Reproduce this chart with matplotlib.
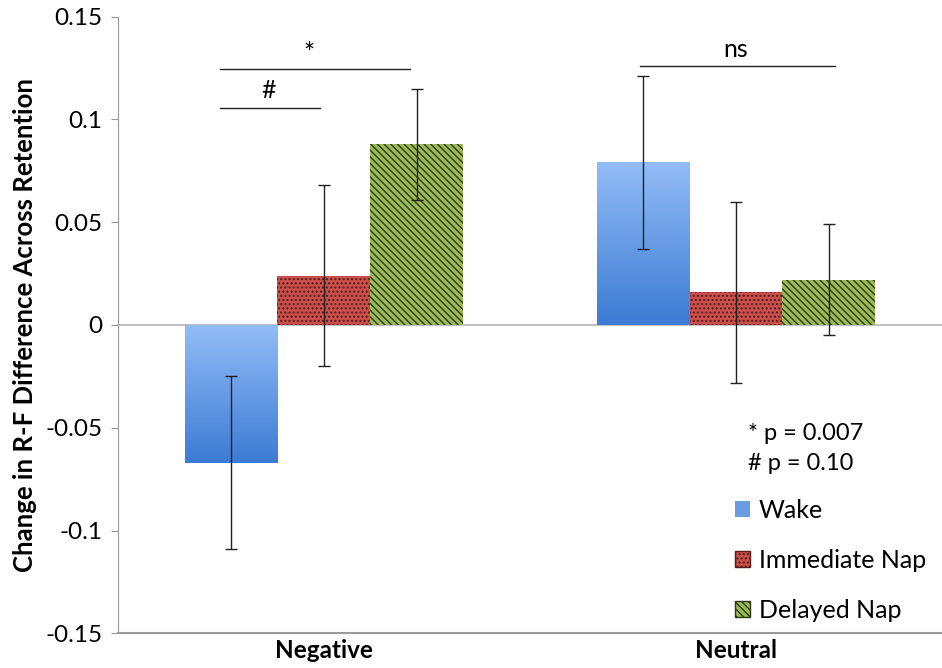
import matplotlib
matplotlib.use("Agg")
import matplotlib.pyplot as plt
import numpy as np
from matplotlib.patches import Patch
from matplotlib.colors import LinearSegmentedColormap

categories = ["Negative", "Neutral"]
series = ["Wake", "Immediate Nap", "Delayed Nap"]
wake = [-0.067, 0.079]
immediate = [0.024, 0.016]
delayed = [0.088, 0.022]
wake_err = [0.042, 0.042]
immediate_err = [0.044, 0.044]
delayed_err = [0.027, 0.027]
yticks = [-0.15, -0.1, -0.05, 0, 0.05, 0.1, 0.15]
ytick_labels = ["-0.15", "-0.1", "-0.05", "0", "0.05", "0.1", "0.15"]

plt.rcParams['font.family'] = ['Lato', 'DejaVu Sans']
plt.rcParams['hatch.linewidth'] = 1.0

fig = plt.figure(figsize=(9.42, 6.68), dpi=100)
ax = fig.add_axes([0.125, 0.052, 0.875, 0.923])

x = np.arange(len(categories))
w = 0.225
offs = [-w, 0, w]

blue_cmap = LinearSegmentedColormap.from_list("b", ["#3c7bd3", "#93bcf7"])

# Wake bars with gradient
wb = ax.bar(x + offs[0], wake, w, color="none", edgecolor="none", zorder=2)
for rect in wb:
    x0 = rect.get_x(); x1 = x0 + rect.get_width()
    y0 = min(rect.get_y(), rect.get_y() + rect.get_height())
    y1 = max(rect.get_y(), rect.get_y() + rect.get_height())
    grad = np.linspace(0, 1, 256).reshape(-1, 1)
    ax.imshow(grad, extent=[x0, x1, y0, y1], origin="lower", cmap=blue_cmap,
              aspect="auto", zorder=2, interpolation="bicubic")

ib = ax.bar(x + offs[1], immediate, w, color="#c9504c", edgecolor="#5a1a18",
            hatch="....", linewidth=0, zorder=2)
db = ax.bar(x + offs[2], delayed, w, color="#9bbb59", edgecolor="#2f3a14",
            hatch="\\\\\\\\\\", linewidth=0, zorder=2)

ax.errorbar(x + offs[0], wake, yerr=wake_err, fmt="none", ecolor="#222222",
            elinewidth=1, capsize=4, capthick=1, zorder=3)
ax.errorbar(x + offs[1], immediate, yerr=immediate_err, fmt="none", ecolor="#222222",
            elinewidth=1, capsize=4, capthick=1, zorder=3)
ax.errorbar(x + offs[2], delayed, yerr=delayed_err, fmt="none", ecolor="#222222",
            elinewidth=1, capsize=4, capthick=1, zorder=3)

ax.axhline(0, color="#b5b5b5", linewidth=1.2, zorder=1)

ax.set_xlim(-0.5, 1.5)
ax.set_ylim(-0.15, 0.15)
ax.set_yticks(yticks)
ax.set_yticklabels(ytick_labels, fontsize=17.5)
ax.set_xticks(x)
ax.set_xticklabels(categories, fontsize=17.5, fontweight="bold")
ax.tick_params(axis="x", length=0, pad=4)
ax.tick_params(axis="y", length=5, color="#999999", pad=6)
for s in ["top", "right"]:
    ax.spines[s].set_visible(False)
ax.spines["left"].set_color("#999999")
ax.spines["bottom"].set_color("#999999")
ax.spines["bottom"].set_linewidth(1.5)
ax.set_ylabel("Change in R-F Difference Across Retention", fontsize=18.5,
              fontweight="bold", labelpad=6)

# significance annotations
ax.plot([-0.252, 0.209], [0.1246, 0.1246], color="#222222", lw=1)
ax.text(-0.035, 0.1255, "*", fontsize=19, ha="center", va="bottom")
ax.plot([-0.252, -0.0097], [0.1056, 0.1056], color="#222222", lw=1)
ax.text(-0.135, 0.1085, "#", fontsize=18, ha="center", va="bottom")
ax.plot([0.767, 1.24], [0.126, 0.126], color="#222222", lw=1)
ax.text(1.0, 0.1285, "ns", fontsize=18, ha="center", va="bottom")

ax.text(1.03, -0.053, "* p = 0.007", fontsize=17, ha="left", va="center")
ax.text(1.03, -0.0675, "# p = 0.10", fontsize=17, ha="left", va="center")

handles = [Patch(facecolor="#6a9be3", edgecolor="none"),
           Patch(facecolor="#c9504c", edgecolor="#5a1a18", hatch="...."),
           Patch(facecolor="#9bbb59", edgecolor="#2f3a14", hatch="\\\\\\\\\\")]
leg = fig.legend(handles, series, loc="upper left", bbox_to_anchor=(0.780, 0.253),
                 bbox_transform=fig.transFigure, borderaxespad=0, borderpad=0,
                 frameon=False, fontsize=18, handlelength=0.6, handleheight=0.6,
                 handletextpad=0.35, labelspacing=1.08)

fig.savefig("out.png", dpi=100)
